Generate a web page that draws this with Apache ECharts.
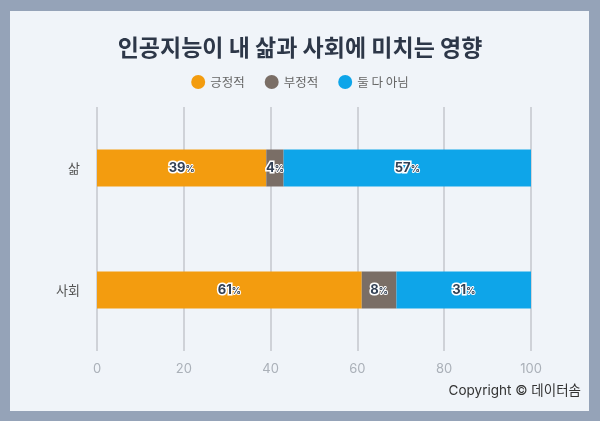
<!DOCTYPE html>
<html>
<head>
<meta charset="utf-8">
<script src="https://cdn.jsdelivr.net/npm/echarts@6/dist/echarts.min.js"></script>
<style>
  html, body { margin: 0; padding: 0; }
  #chart { width: 600px; height: 421px; }
</style>
</head>
<body>
<div id="chart"></div>
<script>
// 데이터
const categories = ["삶", "사회"];
const seriesNames = ["긍정적", "부정적", "둘 다 아님"];
const positive = [39, 61];
const negative = [4, 8];
const neither = [57, 31];
const xTicks = [0, 20, 40, 60, 80, 100];

const colors = ["#f39c0f", "#7a6e66", "#0ea5e9"];
const font = "'Noto Sans CJK KR', 'Noto Sans', sans-serif";
const numFont = "Inter, 'Noto Sans CJK KR', sans-serif";

const label = {
  show: true,
  position: "inside",
  formatter: (p) => "{v|" + p.value + "}{u|%}",
  rich: {
    v: { fontSize: 13, fontWeight: "bold", color: "#334155", textBorderColor: "#fff", textBorderWidth: 3, fontFamily: numFont },
    u: { fontSize: 9, fontWeight: "bold", color: "#334155", textBorderColor: "#fff", textBorderWidth: 2, fontFamily: numFont, padding: [3, 0, 0, 0] }
  }
};

const values = [positive, negative, neither];

const chart = echarts.init(document.getElementById("chart"));
chart.setOption({
  backgroundColor: "#95a3b8",
  animation: false,
  graphic: [
    { type: "rect", z: -10, shape: { x: 10, y: 11, width: 579, height: 400 }, style: { fill: "#f0f4f9" } },
    { type: "text", right: 19, top: 384, style: { text: "Copyright © 데이터솜", fill: "#333", font: "13.5px " + numFont } }
  ],
  title: {
    text: "인공지능이 내 삶과 사회에 미치는 영향",
    left: "center",
    top: 31,
    textStyle: { fontSize: 23, fontWeight: "bold", color: "#2d3748", fontFamily: font }
  },
  legend: {
    top: 70,
    left: "center",
    icon: "circle",
    itemWidth: 14,
    itemHeight: 14,
    itemGap: 20,
    data: seriesNames,
    textStyle: { fontSize: 12.5, color: "#666", fontFamily: font }
  },
  grid: { left: 97, right: 69, top: 107, bottom: 70 },
  xAxis: {
    type: "value",
    min: 0,
    max: 100,
    interval: 20,
    axisLine: { show: false },
    axisTick: { show: false },
    axisLabel: { color: "#aab0b8", fontSize: 13, margin: 12, fontFamily: numFont,
      formatter: (v) => xTicks.includes(v) ? String(v) : "" },
    splitLine: { lineStyle: { color: "#c4c7cc", width: 1.5 } }
  },
  yAxis: {
    type: "category",
    inverse: true,
    data: categories,
    axisLine: { show: false },
    axisTick: { show: false },
    axisLabel: { color: "#555", fontSize: 13, margin: 17, fontFamily: font }
  },
  series: seriesNames.map((name, i) => ({
    name: name,
    type: "bar",
    stack: "total",
    barWidth: 37,
    data: values[i],
    itemStyle: { color: colors[i] },
    label: label
  }))
});
</script>
</body>
</html>
